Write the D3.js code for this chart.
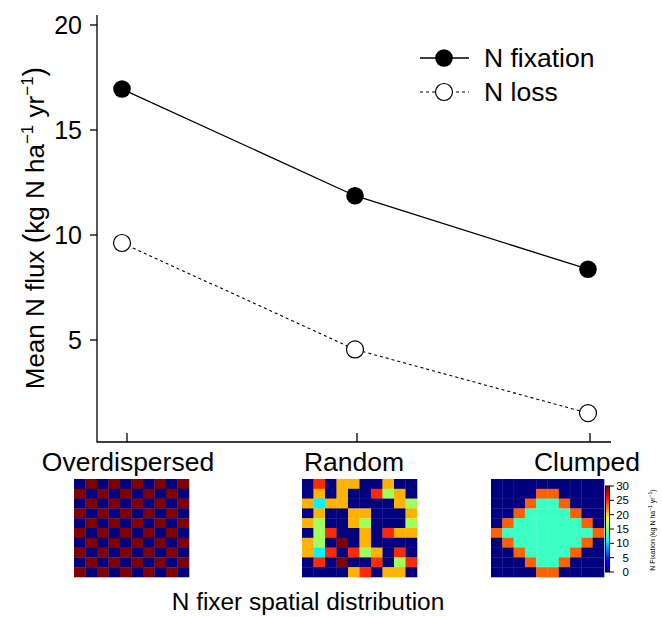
<!DOCTYPE html>
<html>
<head>
<meta charset="utf-8">
<script src="https://cdn.jsdelivr.net/npm/d3@7"></script>
<style>
  body { margin: 0; background: #fff; }
  text { font-family: "Liberation Sans", Arial, sans-serif; fill: #000; }
</style>
</head>
<body>
<div id="chart"></div>
<script>
// categories and series
const categories = ["Overdispersed", "Random", "Clumped"];
const nFixation = [16.95, 11.87, 8.37];
const nLoss = [9.62, 4.55, 1.52];
const yTicks = [5, 10, 15, 20];
const barTicks = [0, 5, 10, 15, 20, 25, 30];

// N fixation maps (kg N / ha / yr), 10 x 10 cells, top row first
const overGrid = [
  [0,30,0,30,0,30,0,30,0,30],
  [30,0,30,0,30,0,30,0,30,0],
  [0,30,0,30,0,30,0,30,0,30],
  [30,0,30,0,30,0,30,0,30,0],
  [0,30,0,30,0,30,0,30,0,30],
  [30,0,30,0,30,0,30,0,30,0],
  [0,30,0,30,0,30,0,30,0,30],
  [30,0,30,0,30,0,30,0,30,0],
  [0,30,0,30,0,30,0,30,0,30],
  [30,0,30,0,30,0,30,0,30,0]
];
const randomGrid = [
  [0,25,0,21,21,0,0,21,0,0],
  [0,21,0,21,0,0,25,16,21,0],
  [21,11,21,21,0,0,0,0,21,16],
  [0,21,0,0,21,21,0,0,0,21],
  [21,16,0,0,21,16,0,0,0,16],
  [0,16,25,0,0,21,0,25,21,21],
  [21,16,0,30,0,21,0,0,0,0],
  [21,11,25,0,25,16,21,0,25,0],
  [0,25,0,30,0,0,25,0,16,25],
  [0,0,0,0,21,25,0,21,21,0]
];
const clumpGrid = [
  [0,0,0,0,0,0,0,0,0,0],
  [0,0,0,0,23.4,23.4,0,0,0,0],
  [0,0,0,23.4,13,13,23.4,0,0,0],
  [0,0,23.4,13,13,13,13,23.4,0,0],
  [0,23.4,13,13,13,13,13,13,23.4,0],
  [23.4,13,13,13,13,13,13,13,13,23.4],
  [0,23.4,13,13,13,13,13,13,23.4,0],
  [0,0,23.4,13,13,13,13,23.4,0,0],
  [0,0,0,23.4,13,13,23.4,0,0,0],
  [0,0,0,0,23.4,23.4,0,0,0,0]
];

const width = 662, height = 617;
const svg = d3.select("#chart").append("svg")
  .attr("width", width)
  .attr("height", height);

const x = d3.scalePoint().domain(categories).range([122, 588]);
const y = d3.scaleLinear().domain([0, 20]).range([445, 25]);

// L-shaped frame
svg.append("path")
  .attr("d", "M97,15V442H611")
  .attr("fill", "none")
  .attr("stroke", "#000")
  .attr("stroke-width", 1.3);

// y axis ticks
svg.selectAll(".ytick").data(yTicks).enter().append("line")
  .attr("x1", 90).attr("x2", 97)
  .attr("y1", d => y(d)).attr("y2", d => y(d))
  .attr("stroke", "#000").attr("stroke-width", 1.3);
svg.selectAll(".ylab").data(yTicks).enter().append("text")
  .attr("x", 82)
  .attr("y", d => y(d) + 9)
  .attr("text-anchor", "end")
  .attr("font-size", "25px")
  .text(d => d);

// x axis ticks + labels
svg.selectAll(".xtick").data(categories).enter().append("line")
  .attr("x1", (d, i) => x(d) + (i == 0 ? 5 : 2)).attr("x2", (d, i) => x(d) + (i == 0 ? 5 : 2))
  .attr("y1", 442).attr("y2", 433)
  .attr("stroke", "#000").attr("stroke-width", 1.3);
svg.selectAll(".xlab").data(categories).enter().append("text")
  .attr("x", (d, i) => x(d) + (i == 0 ? 6 : -1))
  .attr("y", 471)
  .attr("text-anchor", "middle")
  .attr("font-size", "26.5px")
  .text(d => d);

// y title
const yt = svg.append("text")
  .attr("transform", "translate(44,228) rotate(-90)")
  .attr("text-anchor", "middle")
  .attr("font-size", "26px");
yt.append("tspan").text("Mean N flux ");
yt.append("tspan").attr("font-size", "29px").attr("font-weight", 300).text("(");
yt.append("tspan").text("kg N ha");
yt.append("tspan").attr("font-size", "17px").attr("dy", -11).text("\u22121");
yt.append("tspan").attr("dy", 11).text(" yr");
yt.append("tspan").attr("font-size", "17px").attr("dy", -11).text("\u22121");
yt.append("tspan").attr("dy", 11).attr("font-size", "29px").attr("font-weight", 300).text(")");

// x title
svg.append("text")
  .attr("x", 308).attr("y", 610)
  .attr("text-anchor", "middle")
  .attr("font-size", "24.4px")
  .text("N fixer spatial distribution");

// lines
const line = d3.line()
  .x((d, i) => x(categories[i]))
  .y(d => y(d));

svg.append("path").datum(nFixation)
  .attr("d", line)
  .attr("fill", "none").attr("stroke", "#000").attr("stroke-width", 1.3);
svg.append("path").datum(nLoss)
  .attr("d", line)
  .attr("fill", "none").attr("stroke", "#000").attr("stroke-width", 1.1)
  .attr("stroke-dasharray", "3,3");

svg.selectAll(".fix").data(nFixation).enter().append("circle")
  .attr("cx", (d, i) => x(categories[i]))
  .attr("cy", d => y(d))
  .attr("r", 8.8)
  .attr("fill", "#000");
svg.selectAll(".loss").data(nLoss).enter().append("circle")
  .attr("cx", (d, i) => x(categories[i]))
  .attr("cy", d => y(d))
  .attr("r", 8.5)
  .attr("fill", "#fff").attr("stroke", "#000").attr("stroke-width", 1.2);

// legend
const leg = svg.append("g");
leg.append("line").attr("x1", 420).attr("x2", 469).attr("y1", 58).attr("y2", 58)
  .attr("stroke", "#000").attr("stroke-width", 1.3);
leg.append("circle").attr("cx", 444).attr("cy", 58).attr("r", 8.8).attr("fill", "#000");
leg.append("text").attr("x", 484).attr("y", 67).attr("font-size", "26.5px").text("N fixation");
leg.append("line").attr("x1", 420).attr("x2", 469).attr("y1", 92).attr("y2", 92)
  .attr("stroke", "#000").attr("stroke-width", 1.1).attr("stroke-dasharray", "3,3");
leg.append("circle").attr("cx", 444).attr("cy", 92).attr("r", 8.5)
  .attr("fill", "#fff").attr("stroke", "#000").attr("stroke-width", 1.2);
leg.append("text").attr("x", 484).attr("y", 101).attr("font-size", "26.5px").text("N loss");

// jet colour scale
const jetColors = ["#00007F","#0000FF","#007FFF","#00FFFF","#7FFF7F","#FFFF00","#FF7F00","#FF0000","#7F0000"];
const jet = d3.scaleLinear()
  .domain(jetColors.map((c, i) => i * 30 / (jetColors.length - 1)))
  .range(jetColors)
  .clamp(true);

function drawGrid(grid, x0, x1, y0, y1) {
  const gx = d3.scaleBand().domain(d3.range(grid[0].length)).range([x0, x1]);
  const gy = d3.scaleBand().domain(d3.range(grid.length)).range([y0, y1]);
  const g = svg.append("g");
  grid.forEach((row, r) => {
    g.selectAll(null).data(row).enter().append("rect")
      .attr("x", (d, c) => gx(c))
      .attr("y", gy(r))
      .attr("width", gx.bandwidth() + 0.3)
      .attr("height", gy.bandwidth() + 0.3)
      .attr("fill", d => jet(d));
  });
}
drawGrid(overGrid, 74, 189, 479, 577);
drawGrid(randomGrid, 302, 417, 479, 577);
drawGrid(clumpGrid, 491, 604, 479, 577);

// colour bar
const cb = d3.scaleLinear().domain([0, 30]).range([572, 486]);
const defs = svg.append("defs");
const grad = defs.append("linearGradient").attr("id", "jetgrad")
  .attr("x1", 0).attr("x2", 0).attr("y1", 1).attr("y2", 0);
jetColors.forEach((c, i) => {
  grad.append("stop").attr("offset", i / (jetColors.length - 1)).attr("stop-color", c);
});
svg.append("rect")
  .attr("x", 605.5).attr("y", cb(30))
  .attr("width", 4).attr("height", cb(0) - cb(30))
  .attr("fill", "url(#jetgrad)")
  .attr("stroke", "#000").attr("stroke-width", 1);
svg.selectAll(".cbtick").data(barTicks).enter().append("line")
  .attr("x1", 609.5).attr("x2", 614)
  .attr("y1", d => cb(d)).attr("y2", d => cb(d))
  .attr("stroke", "#000").attr("stroke-width", 1);
svg.selectAll(".cblab").data(barTicks).enter().append("text")
  .attr("x", 629)
  .attr("y", d => cb(d) + 4)
  .attr("text-anchor", "end")
  .attr("font-size", "11.5px")
  .text(d => d);
const ct = svg.append("text")
  .attr("transform", "translate(655,530) rotate(-90)")
  .attr("text-anchor", "middle")
  .attr("font-size", "7px");
ct.append("tspan").text("N Fixation (kg N ha");
ct.append("tspan").attr("font-size", "5px").attr("dy", -3).text("\u22121");
ct.append("tspan").attr("dy", 3).text(" yr");
ct.append("tspan").attr("font-size", "5px").attr("dy", -3).text("\u22121");
ct.append("tspan").attr("dy", 3).text(")");
</script>
</body>
</html>
